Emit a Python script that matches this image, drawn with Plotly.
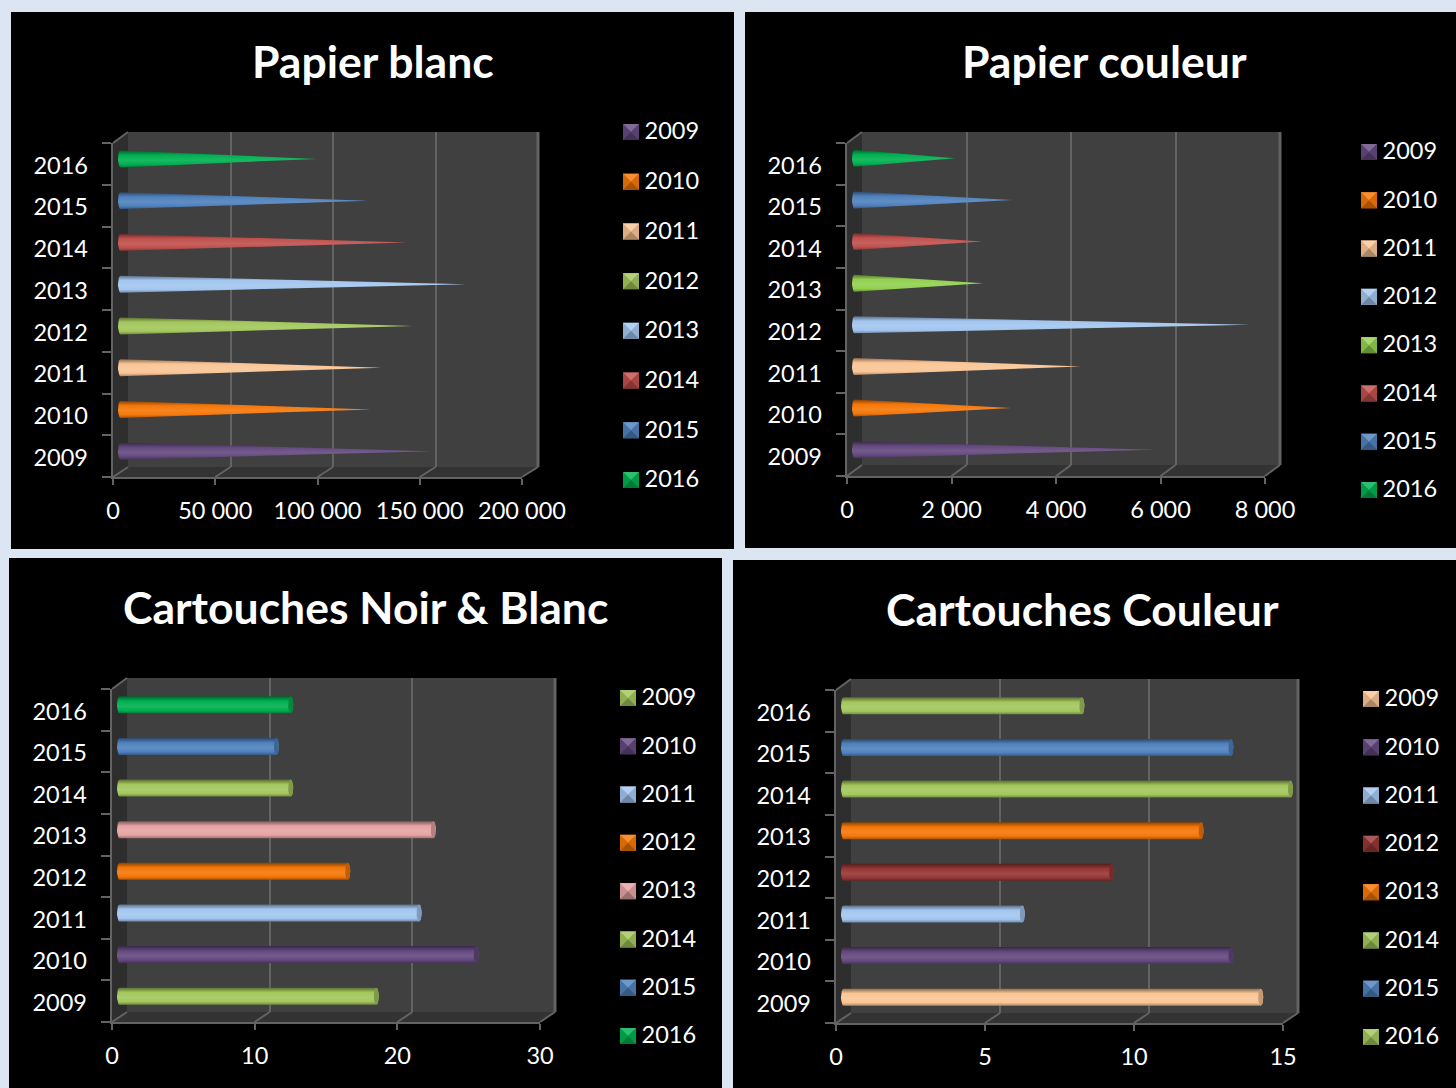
import plotly.graph_objects as go
import math

W, H = 1456, 1088
years = ["2009", "2010", "2011", "2012", "2013", "2014", "2015", "2016"]

# ---------- data ----------
titles = ["Papier blanc", "Papier couleur", "Cartouches Noir & Blanc", "Cartouches Couleur"]
papier_blanc = [152000, 122500, 127500, 143000, 169000, 140000, 121000, 96000]
papier_couleur = [5750, 3000, 4330, 7560, 2460, 2440, 3020, 1920]
cart_nb = [18, 25, 21, 16, 22, 12, 11, 12]
cart_coul = [14, 13, 6, 9, 12, 15, 13, 8]

PURPLE, ORANGE, TAN, OLIVE = "#64497f", "#f57708", "#fac595", "#a3c75d"
SKY, RED, BLUE, GREEN = "#a3c6ef", "#c0504d", "#4f81bd", "#00b050"
LIME, PINK, MAROON = "#92d050", "#e6a3a3", "#953735"
colors_1 = [PURPLE, ORANGE, TAN, OLIVE, SKY, RED, BLUE, GREEN]
colors_2 = [PURPLE, ORANGE, TAN, SKY, LIME, RED, BLUE, GREEN]
colors_3 = [OLIVE, PURPLE, SKY, ORANGE, PINK, OLIVE, BLUE, GREEN]
colors_4 = [TAN, PURPLE, SKY, MAROON, ORANGE, OLIVE, BLUE, OLIVE]

# ---------- layout of each panel, in page pixels ----------
panels = [
    dict(values=papier_blanc, colors=colors_1, shape="cone", tick=50000, vmax=200000,
         box=(11, 12, 734, 549), title_xy=(373, 60),
         fx=(113, 522), fy=(477, 143), bx=(128, 538), by=(467, 132),
         leg_x=631, leg_y=(132, 480)),
    dict(values=papier_couleur, colors=colors_2, shape="cone", tick=2000, vmax=8000,
         box=(745, 12, 1456, 548), title_xy=(1104, 60),
         fx=(847, 1265), fy=(476, 143), bx=(862, 1280), by=(465, 132),
         leg_x=1369, leg_y=(152, 490)),
    dict(values=cart_nb, colors=colors_3, shape="cyl", tick=10, vmax=30,
         box=(9, 558, 722, 1088), title_xy=(365, 606),
         fx=(112, 540), fy=(1022, 689), bx=(127, 555), by=(1012, 678),
         leg_x=628, leg_y=(698, 1036)),
    dict(values=cart_coul, colors=colors_4, shape="cyl", tick=5, vmax=15,
         box=(733, 560, 1456, 1088), title_xy=(1082, 608),
         fx=(836, 1283), fy=(1023, 690), bx=(851, 1298), by=(1013, 679),
         leg_x=1371, leg_y=(699, 1037)),
]

FONT = "Lato"
LINE = "#636363"
BG = "#dce6f2"
WALL, SIDE, FLOOR = "#404040", "#2e2e2e", "#333333"
TICK_SIZE, TITLE_SIZE = 23.5, 44.5
OVERHANG = 12  # room, in pixels, around the bar plane so round ends are not clipped


def X(p):
    return p / W


def Y(p):
    return 1 - p / H


def mix(c, other, t):
    a = [int(c[i:i + 2], 16) for i in (1, 3, 5)]
    b = [int(other[i:i + 2], 16) for i in (1, 3, 5)]
    return "#%02x%02x%02x" % tuple(round(a[i] * (1 - t) + b[i] * t) for i in range(3))


def poly_path(points):
    return "M" + " L".join(f"{X(a):.5f},{Y(b):.5f}" for a, b in points) + " Z"


def shade(c):
    return [[0, mix(c, "#000000", 0.30)], [0.18, c], [0.42, mix(c, "#ffffff", 0.10)],
            [0.72, c], [1, mix(c, "#000000", 0.45)]]


fig = go.Figure()
shapes, annotations, layout_axes = [], [], {}


def paper_poly(points, fill):
    shapes.append(dict(type="path", xref="paper", yref="paper", path=poly_path(points),
                       fillcolor=fill, line=dict(width=0), layer="below"))


def paper_line(a, b, width=2, color=LINE):
    shapes.append(dict(type="line", xref="paper", yref="paper", x0=X(a[0]), y0=Y(a[1]),
                       x1=X(b[0]), y1=Y(b[1]), line=dict(color=color, width=width), layer="below"))


xname = lambda i: "xaxis" + ("" if i == 1 else str(i))
yname = lambda i: "yaxis" + ("" if i == 1 else str(i))
xr = lambda i: "x" + ("" if i == 1 else str(i))
yr = lambda i: "y" + ("" if i == 1 else str(i))
tick_font = dict(family=FONT, size=TICK_SIZE, color="white")

n = 0
for idx, p in enumerate(panels):
    x0, y0, x1, y1 = p["box"]
    paper_poly([(x0, y0), (x1, y0), (x1, y1), (x0, y1)], "#000000")
    fl, fr = p["fx"]
    fb, ft = p["fy"]
    bl, br = p["bx"]
    bb, bt = p["by"]
    paper_poly([(bl, bt), (br, bt), (br, bb), (bl, bb)], WALL)
    paper_poly([(fl, ft), (bl, bt), (bl, bb), (fl, fb)], SIDE)
    paper_poly([(fl, fb), (bl, bb), (br, bb), (fr, fb)], FLOOR)
    paper_line((fl, ft), (bl, bt))
    tick_vals = list(range(0, p["vmax"] + 1, p["tick"]))
    for tv in tick_vals:
        fxp = fl + (fr - fl) * tv / p["vmax"]
        bxp = bl + (br - bl) * tv / p["vmax"]
        paper_line((fxp, fb), (bxp, bb))
    paper_line((br, bt), (br, bb), width=3)
    annotations.append(dict(text=titles[idx], xref="paper", yref="paper",
                            x=X(p["title_xy"][0]), y=Y(p["title_xy"][1]), xanchor="center",
                            yanchor="middle", showarrow=False,
                            font=dict(family=FONT, size=TITLE_SIZE, color="white", weight=700)))

    # five overlaid axis pairs: front frame, year labels, back wall, bar plane, legend column
    a, e, b, c, d = n + 1, n + 2, n + 3, n + 4, n + 5
    n += 5

    # front frame: value labels, axis lines, tick marks
    layout_axes[xname(a)] = dict(domain=[X(fl), X(fr)], anchor=yr(a), range=[0, p["vmax"]], automargin=False,
                                 tickvals=tick_vals, tickformat=",d", showgrid=False, zeroline=False,
                                 showline=True, linecolor=LINE, linewidth=2, ticks="outside",
                                 ticklen=6, tickwidth=2, tickcolor=LINE, ticklabelstandoff=6,
                                 tickfont=tick_font)
    layout_axes[yname(a)] = dict(domain=[Y(fb), Y(ft)], anchor=xr(a), range=[-0.5, 7.5], automargin=False,
                                 tickvals=[k - 0.5 for k in range(9)], showticklabels=False,
                                 showgrid=False, zeroline=False, showline=True,
                                 linecolor=LINE, linewidth=2, ticks="outside", ticklen=9, tickwidth=2,
                                 tickcolor=LINE)
    fig.add_trace(go.Scatter(x=[0], y=[0], xaxis=xr(a), yaxis=yr(a), mode="none",
                             showlegend=False, hoverinfo="skip"))

    # year labels, centred on each category
    layout_axes[xname(e)] = dict(domain=[X(fl), X(fr)], anchor=yr(e), range=[0, 1], visible=False,
                                 automargin=False)
    layout_axes[yname(e)] = dict(domain=[Y(fb + 1.5), Y(ft + 1.5)], anchor=xr(e), range=[-0.5, 7.5],
                                 automargin=False, tickvals=list(range(8)), ticktext=years,
                                 showgrid=False, zeroline=False, showline=False, ticks="",
                                 ticklabelstandoff=24, tickfont=tick_font)
    fig.add_trace(go.Scatter(x=[0], y=[0], xaxis=xr(e), yaxis=yr(e), mode="none",
                             showlegend=False, hoverinfo="skip"))

    # back wall: the vertical gridlines
    layout_axes[xname(b)] = dict(domain=[X(bl), X(br)], anchor=yr(b), range=[0, p["vmax"]], automargin=False,
                                 tickvals=tick_vals, showticklabels=False, showgrid=True,
                                 gridcolor=LINE, gridwidth=2, zeroline=False, ticks="")
    layout_axes[yname(b)] = dict(domain=[Y(bb), Y(bt)], anchor=xr(b), range=[0, 1], showticklabels=False,
                                 showgrid=False, zeroline=False, ticks="", automargin=False)
    fig.add_trace(go.Scatter(x=[0], y=[0], xaxis=xr(b), yaxis=yr(b), mode="none",
                             showlegend=False, hoverinfo="skip"))

    # bar plane: half way between the front and the wall
    dx, dy = (bl - fl) / 2, (fb - bb) / 2
    unit_x = p["vmax"] / (fr - fl)
    layout_axes[xname(c)] = dict(domain=[X(fl + dx - OVERHANG), X(fr + dx + OVERHANG)], anchor=yr(c),
                                 range=[-OVERHANG * unit_x, p["vmax"] + OVERHANG * unit_x],
                                 visible=False, automargin=False)
    layout_axes[yname(c)] = dict(domain=[Y(fb - dy), Y(ft - dy)], anchor=xr(c), range=[-0.5, 7.5],
                                 visible=False, automargin=False)
    half = 8.5 * 8 / (fb - ft)
    rx = 2.5 * unit_x
    for i, (year, val, col) in enumerate(zip(years, p["values"], p["colors"])):
        arc = [k * math.pi / 12 for k in range(6, 19)]
        left_x = [rx * math.cos(t) for t in arc]
        left_y = [i + half * math.sin(t) for t in arc]
        if p["shape"] == "cone":
            xs = left_x + [val, left_x[0]]
            ys = left_y + [i, left_y[0]]
        else:
            right = [k * math.pi / 12 for k in range(-6, 7)]
            xs = left_x + [val + rx * math.cos(t) for t in right] + [left_x[0]]
            ys = left_y + [i + half * math.sin(t) for t in right] + [left_y[0]]
        fig.add_trace(go.Scatter(x=xs, y=ys, xaxis=xr(c), yaxis=yr(c), mode="lines", fill="toself",
                                 line=dict(width=0), fillgradient=dict(type="vertical", colorscale=shade(col)),
                                 name=year, showlegend=False, hoverinfo="name"))
        if p["shape"] == "cyl":
            ring = [k * math.pi / 12 for k in range(0, 25)]
            fig.add_trace(go.Scatter(x=[val + rx * math.cos(t) for t in ring],
                                     y=[i + half * math.sin(t) for t in ring],
                                     xaxis=xr(c), yaxis=yr(c), mode="lines", fill="toself",
                                     line=dict(width=0), fillcolor=mix(col, "#000000", 0.22),
                                     showlegend=False, hoverinfo="skip"))

    # legend column: swatch + year (axis runs past each end so the last label stays in range)
    ly0, ly1 = p["leg_y"]
    lx = p["leg_x"]
    step = (ly1 - ly0) / 7
    layout_axes[xname(d)] = dict(domain=[X(lx), X(lx + 80)], anchor=yr(d), range=[0, 80], visible=False, automargin=False)
    layout_axes[yname(d)] = dict(domain=[max(0, Y(ly1 + step / 2)), Y(ly0 - step / 2)], anchor=xr(d),
                                 range=[-0.5, 7.5], visible=False, automargin=False)
    fig.add_trace(go.Scatter(x=[0] * 8, y=list(range(8))[::-1], xaxis=xr(d), yaxis=yr(d),
                             mode="markers",
                             marker=dict(symbol="square", size=16, color=p["colors"], line=dict(width=0)),
                             cliponaxis=False, showlegend=False, hoverinfo="skip"))
    fig.add_trace(go.Scatter(x=[13.5] * 8, y=[k - 0.03 for k in range(8)][::-1], xaxis=xr(d), yaxis=yr(d),
                             mode="text", text=years, textposition="middle right",
                             textfont=tick_font,
                             cliponaxis=False, showlegend=False, hoverinfo="text"))
    for i, col in enumerate(p["colors"]):
        cy = ly0 + i * step
        l, r, t, bo = lx - 8, lx + 8, cy - 8, cy + 8
        for pts, face in (([(l, t), (r, t), (lx, cy)], mix(col, "#ffffff", 0.18)),
                          ([(l, t), (l, bo), (lx, cy)], mix(col, "#000000", 0.12)),
                          ([(r, t), (r, bo), (lx, cy)], mix(col, "#000000", 0.12)),
                          ([(l, bo), (r, bo), (lx, cy)], mix(col, "#000000", 0.32))):
            shapes.append(dict(type="path", xref="paper", yref="paper", path=poly_path(pts),
                               fillcolor=face, line=dict(width=0), layer="above"))

fig.update_layout(template="none", width=W, height=H, margin=dict(l=0, r=0, t=0, b=0, pad=0), paper_bgcolor=BG,
                  plot_bgcolor="rgba(0,0,0,0)", showlegend=False, separators=". ",
                  shapes=shapes, annotations=annotations, **layout_axes)
fig.write_html("out.html", config=dict(displayModeBar=False),
               post_script="document.body.style.margin='0';document.body.style.overflow='hidden';")
